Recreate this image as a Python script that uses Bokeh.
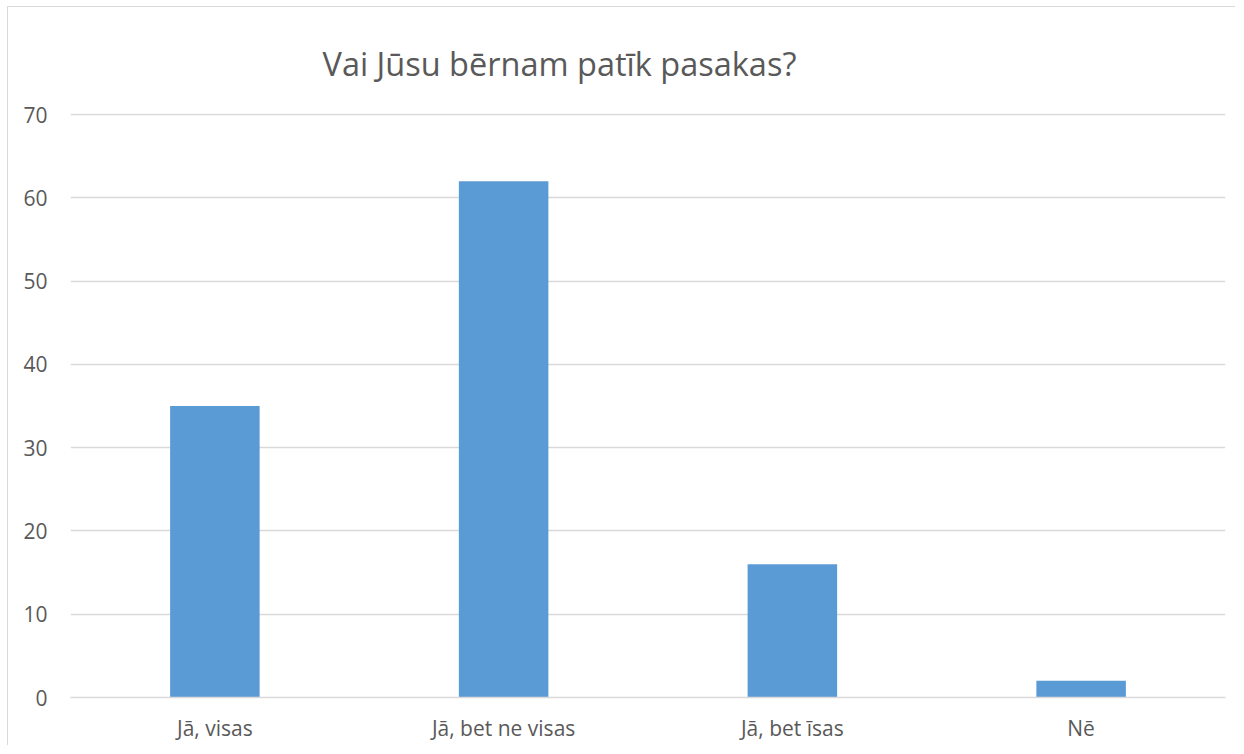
from bokeh.plotting import figure
from bokeh.models import ColumnDataSource, FixedTicker, Range1d
from bokeh.embed import file_html
from bokeh.resources import INLINE

categories = ["Jā, visas", "Jā, bet ne visas", "Jā, bet īsas", "Nē"]
values = [35, 62, 16, 2]
y_ticks = [0, 10, 20, 30, 40, 50, 60, 70]
title_text = "Vai Jūsu bērnam patīk pasakas?"

FONT = "Open Sans"
TEXT_COLOR = "#595959"
GRID_COLOR = "#d9d9d9"
BAR_COLOR = "#5b9bd5"

source = ColumnDataSource(data=dict(cat=categories, val=values))

p = figure(
    x_range=categories,
    y_range=Range1d(0, 70.15),
    width=1228,
    height=739,
    output_backend="svg",
    toolbar_location=None,
    title=title_text,
    min_border_left=62,
    min_border_right=11,
    min_border_bottom=49,
    min_border_top=106,
)

p.vbar(x="cat", top="val", width=0.31, source=source, color=BAR_COLOR, line_color=None)

p.title.text_font = FONT
p.title.text_font_size = "32.5px"
p.title.text_font_style = "normal"
p.title.text_color = TEXT_COLOR
p.title.align = "left"
p.title.offset = 252
p.title.standoff = 56

p.outline_line_color = None
p.background_fill_color = "white"
p.border_fill_color = "white"
p.styles = {
    "border-left": "1px solid #d9d9d9",
    "border-top": "1px solid #d9d9d9",
    "margin-left": "7px",
    "margin-top": "6px",
}

p.x_range.range_padding = 0
p.xgrid.grid_line_color = None
p.ygrid.grid_line_color = GRID_COLOR
p.ygrid.grid_line_width = 1.5

p.yaxis.ticker = FixedTicker(ticks=y_ticks)
p.yaxis.axis_line_color = None
p.yaxis.major_tick_line_color = None
p.yaxis.minor_tick_line_color = None
p.yaxis.major_label_standoff = 17
p.yaxis.major_label_text_font = FONT
p.yaxis.major_label_text_font_size = "21px"
p.yaxis.major_label_text_color = TEXT_COLOR

p.xaxis.axis_line_color = GRID_COLOR
p.xaxis.axis_line_width = 1.5
p.xaxis.major_tick_line_color = None
p.xaxis.minor_tick_line_color = None
p.xaxis.major_label_standoff = 10
p.xaxis.major_label_text_font = FONT
p.xaxis.major_label_text_font_size = "21px"
p.xaxis.major_label_text_color = TEXT_COLOR

open("out.html", "w").write(file_html(p, INLINE))
